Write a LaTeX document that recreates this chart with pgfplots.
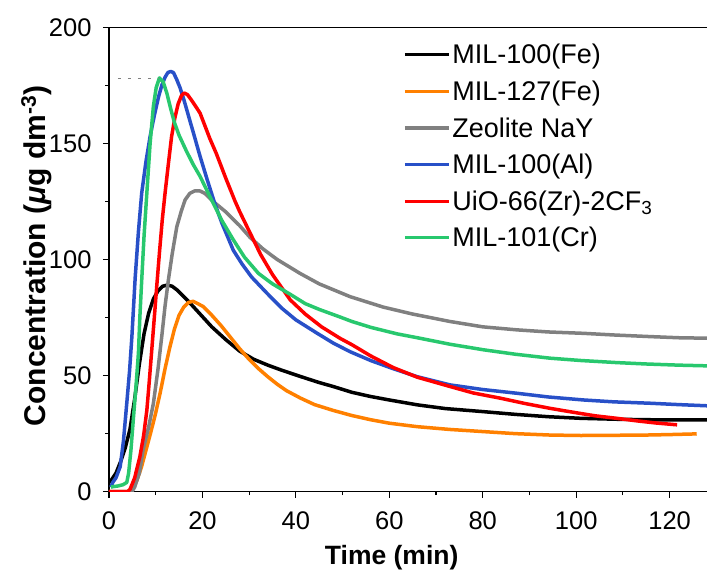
\documentclass[border=0pt]{standalone}
\usepackage{pgfplots}
\pgfplotsset{compat=1.18}
\usepackage{fontspec}
\setmainfont{Liberation Sans}
\definecolor{cblack}{RGB}{0,0,0}
\definecolor{corange}{RGB}{255,128,0}
\definecolor{cgray}{RGB}{128,128,128}
\definecolor{cblue}{RGB}{40,80,200}
\definecolor{cred}{RGB}{255,0,0}
\definecolor{cgreen}{RGB}{40,200,110}
\newcommand{\tfont}{\fontsize{25.5}{28}\selectfont}
\newcommand{\lfont}{\fontsize{27}{30}\selectfont}
\begin{document}
\begin{tikzpicture}
\begin{axis}[
  name=ax,
  scale only axis,
  width=598pt, height=464.4pt,
  xmin=0, xmax=128, ymin=0, ymax=200,
  axis x line=box, axis y line=left,
  x axis line style={-}, y axis line style={-},
  axis line style={line width=1.1pt},
  every tick/.style={black, line width=1.1pt},
  tick align=outside,
  xtick pos=bottom, ytick pos=left,
  major tick length=6pt, minor tick length=3.5pt,
  xtick={0,20,...,120}, ytick={0,50,...,200},
  minor xtick={10,30,...,130}, minor ytick={25,75,...,175},
  /pgf/number format/assume math mode=true,
  xticklabel={\tfont\pgfmathprintnumber{\tick}},
  yticklabel={\tfont\pgfmathprintnumber{\tick}},
  xticklabel style={yshift=-10pt},
  yticklabel style={xshift=-8pt},
  xlabel={\textbf{Time (min)}},
  ylabel={\textbf{Concentration (\textit{μ}g dm\textsuperscript{-3})}},
  xlabel style={font=\fontsize{26.5}{30}\selectfont, at={(axis description cs:0.4727,-0.1557)}, anchor=base},
  ylabel style={font=\fontsize{30}{34}\selectfont, at={(axis description cs:-0.107,0.5075)}, anchor=base},
  legend style={draw=none, fill=none, at={(axis description cs:0.4916,0.968)}, anchor=north west,
    font=\lfont, row sep=11.5pt, inner sep=0pt,
    nodes={inner sep=2pt}},
  legend cell align=left,
  legend image code/.code={\draw[#1, line width=3.2pt] (0pt,0pt) -- (44pt,0pt);},
  every axis plot/.append style={line width=3.5pt, line join=round},
]
% MIL-100(Fe)
\addplot[cblack] coordinates {(0,4)(0.5,5)(1.5,8)(2.5,13)(3.5,19)(4.5,27)(5.5,40)(6.5,55)(7.5,68)(8.5,77)(9.5,83)(10.5,86.5)(11.5,88.5)(12.5,89)(13.5,88.5)(14.5,87)(15.5,85)(17,82)(19.5,76.5)(22,71)(25,65.5)(28,60.5)(31,57)(34,54.5)(37,52.3)(41,49.6)(45,47)(48,45.3)(52,42.8)(56,41)(60,39.5)(66,37.4)(72,35.8)(80,34.5)(87,33.3)(94,32.3)(101,31.6)(108.7,31.2)(115,31)(122,30.9)(128,30.9)};
\addlegendentry{\lfont MIL-100(Fe)}
% MIL-127(Fe)
\addplot[corange] coordinates {(0,0)(4,0)(5,1.5)(6,5)(7,11)(8,18.5)(9,26)(10,34)(11,43)(12,53)(13,62)(14,70)(15,76)(16,79.5)(17,81.5)(18,82)(19,81)(20.2,79.7)(22,76)(24,71.5)(26,66.5)(28,61.5)(30,57)(32,53)(34,49.5)(36,46.3)(38,43.5)(41,40.3)(44,37.5)(48,35)(52,32.8)(56,31)(60,29.5)(66,28)(73,26.8)(80,25.9)(87,25)(94.4,24.4)(101,24.2)(108.7,24.3)(115,24.4)(120,24.6)(125.8,24.9)};
\addlegendentry{\lfont MIL-127(Fe)}
% Zeolite NaY
\addplot[cgray] coordinates {(0,0)(4.9,0)(5.5,2)(6.5,8)(7.3,18)(8.5,28)(9.5,38)(10.5,53)(11.3,67)(12,80)(12.7,91)(13.5,102)(14.5,114)(15.5,121)(16.3,125.7)(17.3,128.5)(18.3,129.5)(19.5,129.5)(20.5,128.5)(22.3,125)(25,120.5)(28,114.5)(30.2,109.5)(33,104.5)(36,100)(40.9,94)(45,89.5)(51.6,84)(58.7,79.5)(65,76.5)(73,73.3)(80,71)(87.3,69.7)(94,68.8)(101.6,68.2)(108,67.5)(115.8,66.8)(122,66.3)(128,66.1)};
\addlegendentry{\lfont Zeolite NaY}
% MIL-100(Al)
\addplot[cblue] coordinates {(0.4,2)(0.8,4)(1.5,6)(2.4,10.8)(3.1,22)(3.8,38)(4.4,52)(4.9,66.8)(5.6,92)(6.3,112)(7,128.6)(7.9,142)(8.8,153)(9.7,162)(10.6,170)(11.3,175)(12,178.5)(12.6,180.5)(13.2,181)(13.8,180.5)(14.5,177.5)(15.2,174)(16,169)(17,162)(18,155)(19.5,144.4)(21,134.5)(22.5,125)(24.1,116)(26.6,104)(28.5,98)(30.5,92.5)(33.8,85.5)(37,79)(40,74)(44.5,68.3)(48,64)(51.6,60.3)(56,56.5)(60.8,53)(66,49.5)(73,46)(80,44)(87.3,42.4)(94,40.8)(101.6,39.5)(108,38.7)(115.8,38.1)(122,37.5)(128,37)};
\addlegendentry{\lfont MIL-100(Al)}
% UiO-66(Zr)-2CF3
\addplot[cred] coordinates {(0,0)(4,0)(4.5,1)(5.5,6)(6.6,15)(7.4,24)(8.1,35)(8.6,47)(9.1,59.7)(9.7,75)(10.2,88)(10.8,103)(11.4,117)(12,128.6)(12.7,141)(13.4,153)(14.1,161)(14.8,167)(15.5,170.5)(16.1,171.7)(16.8,171)(17.7,168.5)(18.7,165.5)(19.5,163)(21.6,152)(23,145.5)(25,135)(27,125)(28,120.5)(30.2,111.4)(32.5,102)(35,93.5)(38.8,82.6)(42,76.5)(45.5,71)(49.5,66)(52,63.3)(56,58.5)(60.8,53.5)(66,49.3)(73,45.3)(78,42.5)(83.7,40.3)(89,38)(94.4,35.9)(100,34)(104,32.7)(108.7,31.6)(113,30.5)(117,29.6)(121.6,28.8)};
\addlegendentry{\lfont UiO-66(Zr)-2CF\textsubscript{3}\rule[-13pt]{0pt}{1pt}}
% MIL-101(Cr)
\addplot[cgreen] coordinates {(0.4,2)(1,2.2)(2,2.5)(3,3)(3.8,4)(4.2,8)(4.7,18)(5.2,31)(5.8,46)(6.3,59.7)(6.6,75)(7,91)(7.5,110)(8.1,128.6)(8.8,150)(9.5,166)(10.1,174)(10.8,178.2)(11.6,176.5)(12.4,171.5)(13.2,165)(14,159)(15,153.5)(16.5,147)(18,141)(19.5,135.8)(21.5,127.5)(23,121.5)(24.1,117)(26.6,108.5)(29,101)(32,94)(35,89.5)(38.8,85)(42,81)(45,78.5)(49.5,75.2)(52,73.3)(56,70.8)(61.6,68)(66,66.3)(73,63.5)(80.2,61.1)(87,59.2)(94.4,57.5)(101,56.5)(108.7,55.6)(115,55)(122,54.5)(128,54.2)};
\addlegendentry{\lfont MIL-101(Cr)}
% small dashed mark
\addplot[gray, line width=0.5pt, dash pattern=on 3pt off 7pt, forget plot] coordinates {(1.9,178)(10.6,178)};
\end{axis}
\pgfresetboundingbox
\path ([shift={(-109pt,-81.3pt)}]ax.south west) rectangle ([shift={(0pt,27.3pt)}]ax.north east);
\end{tikzpicture}
\end{document}
